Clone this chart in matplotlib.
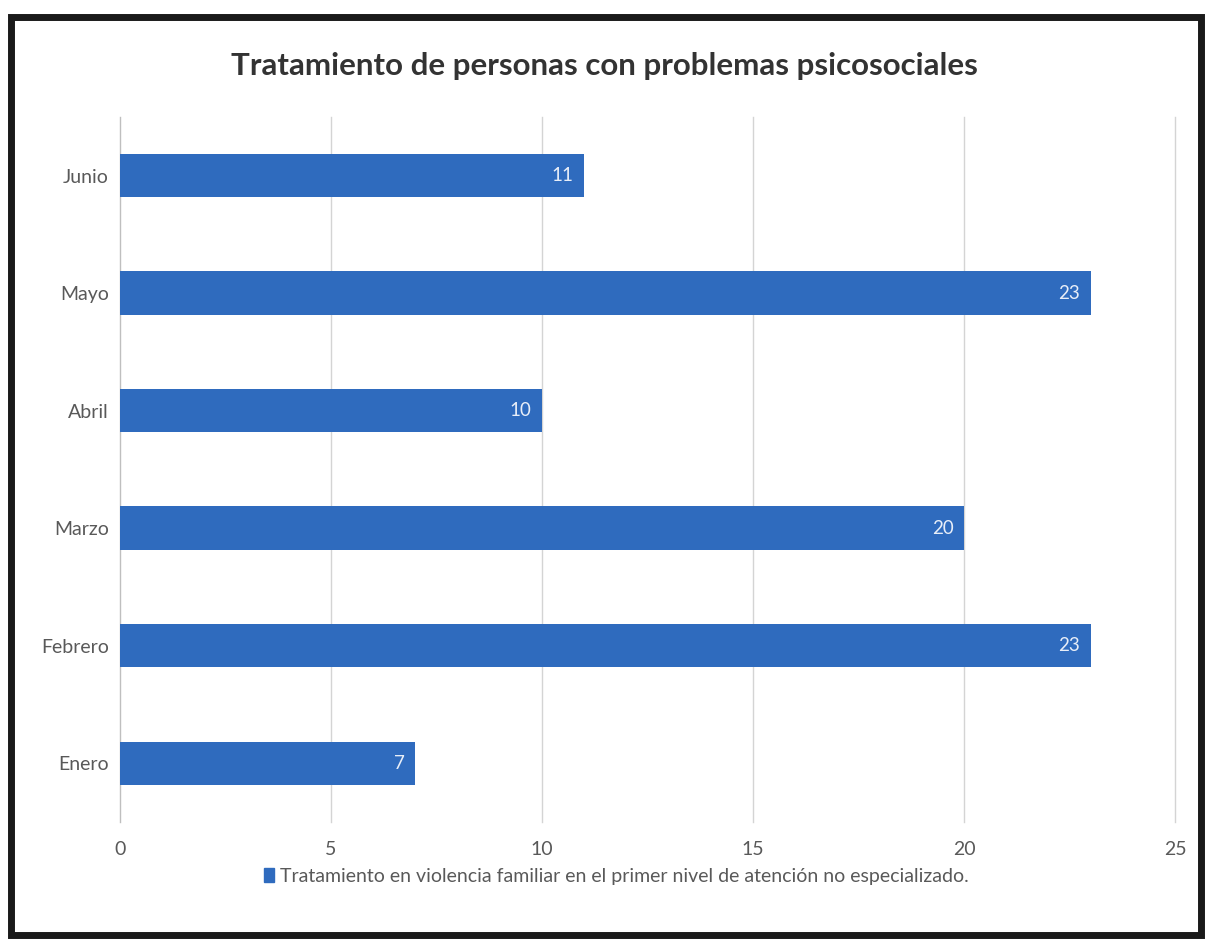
import matplotlib
matplotlib.use("Agg")
import matplotlib.pyplot as plt
from matplotlib.patches import Rectangle

months = ["Enero", "Febrero", "Marzo", "Abril", "Mayo", "Junio"]
values = [7, 23, 20, 10, 23, 11]
x_ticks = [0, 5, 10, 15, 20, 25]
title = "Tratamiento de personas con problemas psicosociales"
legend_label = "Tratamiento en violencia familiar en el primer nivel de atención no especializado."

bar_color = "#2F6BBE"
text_gray = "#595959"
font = ["Lato", "DejaVu Sans"]

fig = plt.figure(figsize=(12.09, 9.43), dpi=100)
fig.patch.set_facecolor("white")

# outer black frame
fig.add_artist(Rectangle((0.009, 0.008), 0.984, 0.974, transform=fig.transFigure,
                         fill=False, edgecolor="#1a1a1a", linewidth=5))

ax = fig.add_axes([0.0993, 0.1283, 0.8727, 0.7477])
ypos = list(range(len(months)))
ax.barh(ypos, values, height=0.37, color=bar_color, zorder=3)
for y, v in zip(ypos, values):
    ax.text(v - 0.25, y, str(v), ha="right", va="center", color="#e8eef8",
            fontsize=13.5, family=font, zorder=4)

ax.set_xlim(0, 25)
ax.set_ylim(-0.5, 5.5)
ax.set_xticks(x_ticks)
ax.set_xticklabels([str(t) for t in x_ticks], family=font, fontsize=14, color=text_gray)
ax.set_yticks(ypos)
ax.set_yticklabels(months, family=font, fontsize=14, color=text_gray)
ax.tick_params(length=0, pad=8)
ax.tick_params(axis="x", pad=14)
ax.xaxis.grid(True, color="#d4d4d4", linewidth=1, zorder=0)
for gl in ax.get_xgridlines():
    gl.set_clip_on(False)
for s in ["top", "right", "bottom"]:
    ax.spines[s].set_visible(False)
ax.spines["left"].set_color("#bfbfbf")
ax.spines["left"].set_zorder(2)

fig.text(0.5, 0.93, title, ha="center", va="center", fontsize=22.5,
         fontweight="bold", family=font, color="#333333")

handle = Rectangle((0, 0), 1, 1, color=bar_color)
fig.legend([handle], [legend_label], loc="center", bbox_to_anchor=(0.51, 0.071),
           frameon=False, prop={"family": font, "size": 14}, labelcolor=text_gray,
           handlelength=0.5, handleheight=0.7, handletextpad=0.3)

fig.savefig("out.png", dpi=100, facecolor="white")
